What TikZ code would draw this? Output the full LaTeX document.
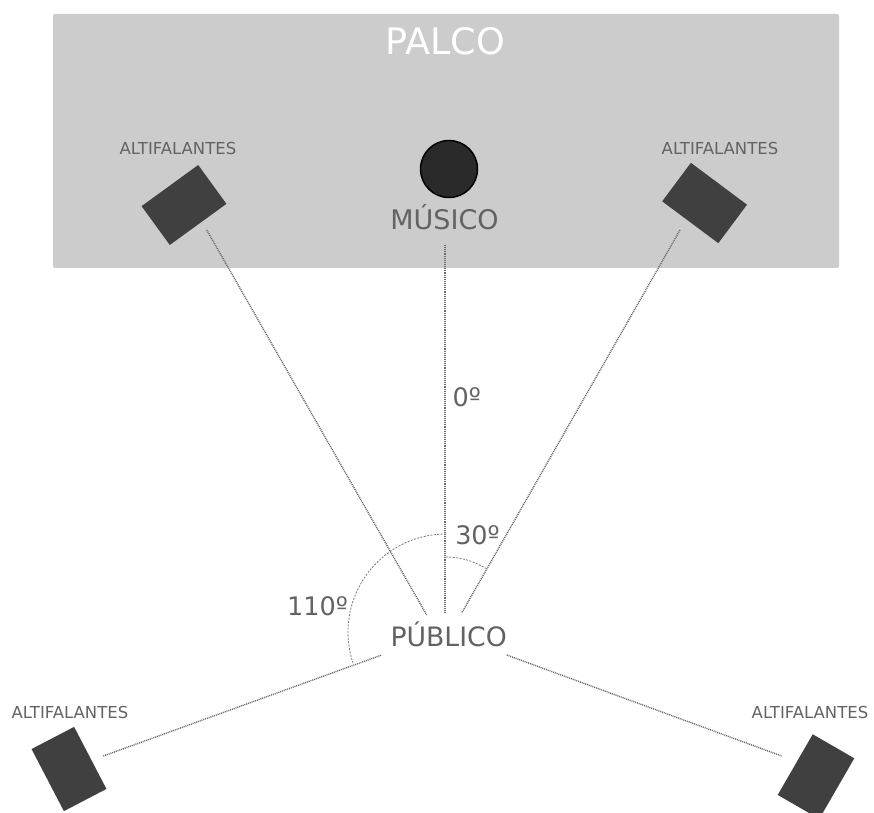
\documentclass[tikz,border=0pt]{standalone}
\usepackage{fontspec}
\setmainfont{DejaVu Sans}
\begin{document}
\begin{tikzpicture}[x=1pt,y=1pt,
  lbl/.style={text=labelgray, inner sep=0pt},
  spk/.style={fill=spkgray, draw=none, inner sep=0pt, minimum width=70pt, minimum height=48pt},
  spkv/.style={fill=spkgray, draw=none, inner sep=0pt, minimum width=48pt, minimum height=70pt},
  ray/.style={draw=raygray, line width=1.4pt, dash pattern=on 1pt off 0.9pt},
  angarc/.style={draw=arcgray, line width=0.8pt, dash pattern=on 2pt off 1.4pt}]
\definecolor{stagegray}{HTML}{CCCCCC}
\definecolor{labelgray}{HTML}{636363}
\definecolor{spkgray}{HTML}{404040}
\definecolor{raygray}{HTML}{6A6A6A}
\definecolor{arcgray}{HTML}{7A7A7A}
\definecolor{musgray}{HTML}{2A2A2A}
\path[use as bounding box, fill=white] (0,0) rectangle (874,812);
\begin{scope}
\clip (0,0) rectangle (874,812);
% stage
\fill[stagegray, rounded corners=2pt] (53,544) rectangle (839,798);
\node[text=white, inner sep=0pt, font=\fontsize{36.5}{40}\selectfont] (palco) at (445.5,771) {PALCO};
% musician
\node[circle, fill=musgray, draw=black, line width=1.5pt, minimum size=57pt, inner sep=0pt] (musico) at (449,643) {};
\node[lbl, font=\fontsize{27}{30}\selectfont] (musicolbl) at (444.5,595) {MÚSICO};
% speakers
\node[spk, rotate=36] (spkTL) at (184,607) {};
\node[spk, rotate=-36.7] (spkTR) at (704.6,609) {};
\node[spkv, rotate=27.5] (spkBL) at (69,43) {};
\node[spkv, rotate=-30] (spkBR) at (816,35.4) {};
\node[lbl, font=\fontsize{16.5}{18}\selectfont] (altTL) at (178,664) {ALTIFALANTES};
\node[lbl, font=\fontsize{16.5}{18}\selectfont] (altTR) at (720,664) {ALTIFALANTES};
\node[lbl, font=\fontsize{16.5}{18}\selectfont] (altBL) at (70,100) {ALTIFALANTES};
\node[lbl, font=\fontsize{16.5}{18}\selectfont] (altBR) at (810,100) {ALTIFALANTES};
% audience
\coordinate (P) at (446,180);
\node[lbl, font=\fontsize{26.7}{30}\selectfont] (publico) at (448.7,178) {PÚBLICO};
% ray end points
\coordinate (mA) at (445,567);
\coordinate (mB) at (445,199);
\coordinate (tlA) at (206.7,582);
\coordinate (tlB) at (426.7,197);
\coordinate (trA) at (680,582);
\coordinate (trB) at (461.7,199);
\coordinate (blA) at (103.3,56);
\coordinate (blB) at (381.7,157);
\coordinate (brA) at (506.7,157);
\coordinate (brB) at (781.7,56);
\draw[ray] (mA) -- (mB);
\draw[ray] (tlA) -- (tlB);
\draw[ray] (trA) -- (trB);
\draw[ray] (blA) -- (blB);
\draw[ray] (brA) -- (brB);
% angle arcs
\draw[angarc] ([shift={(90:98)}]P) arc[start angle=90, end angle=199, radius=98];
\draw[angarc] ([shift={(90:75)}]P) arc[start angle=90, end angle=58, radius=75];
% angle labels
\node[lbl, font=\fontsize{25.5}{30}\selectfont] (a0) at (466.7,415) {0º};
\node[lbl, font=\fontsize{25.5}{30}\selectfont] (a30) at (477.5,277) {30º};
\node[lbl, font=\fontsize{25.5}{30}\selectfont, anchor=east] (a110) at (348,206) {110º};
\end{scope}
\end{tikzpicture}
\end{document}
